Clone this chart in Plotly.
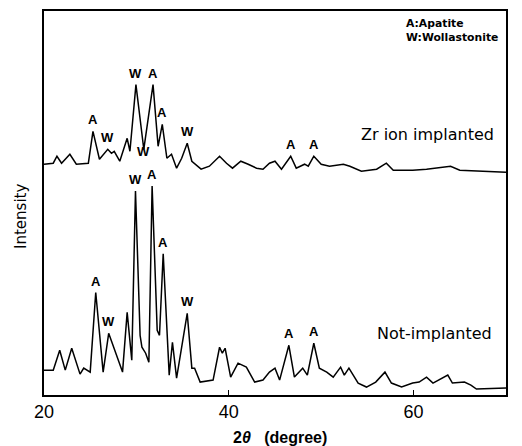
import numpy as np
import plotly.graph_objects as go

# Not-implanted pattern (2theta, intensity, arbitrary units)
lower_2theta = [20.0, 21.0, 21.7, 22.3, 23.0, 23.9, 24.3, 25.0, 25.6, 26.4, 27.0, 27.6, 28.5, 29.0,
                29.5, 29.9, 30.4, 30.6, 31.0, 31.35, 31.7, 32.25, 32.5, 32.9, 33.55, 33.9, 34.35,
                35.5, 36.0, 36.3, 36.9, 38.3, 39.0, 39.3, 39.6, 40.2, 41.0, 41.9, 42.8, 43.7, 44.4,
                45.0, 45.5, 46.5, 47.1, 48.0, 48.5, 49.2, 49.8, 50.6, 51.3, 52.1, 52.5, 53.0, 54.0,
                54.9, 55.9, 56.9, 57.6, 58.7, 59.9, 60.6, 61.4, 62.1, 63.7, 64.2, 65.5, 66.2, 66.8, 70.0]
lower_int = [25, 25, 45, 25, 47, 21, 27, 23, 103, 23, 62, 47, 23, 83,
             35, 205, 60, 48, 42, 33, 210, 65, 60, 142, 20, 53, 17,
             82, 27, 27, 13, 15, 48, 42, 47, 18, 32, 28, 13, 15, 23,
             27, 15, 50, 18, 27, 20, 52, 27, 23, 18, 28, 20, 27, 12,
             8, 13, 23, 12, 8, 12, 13, 18, 12, 20, 12, 13, 10, 6, 7]

# Zr ion implanted pattern (2theta, intensity relative to its own baseline)
upper_2theta = [20.0, 21.0, 21.4, 21.9, 22.8, 23.5, 24.8, 25.3, 26.0, 26.9, 27.3, 27.6, 28.2, 29.0,
                29.3, 29.95, 30.8, 31.8, 32.35, 32.8, 33.3, 33.8, 34.35, 34.9, 35.5, 36.0, 37.0,
                37.9, 39.0, 39.75, 40.4, 41.3, 42.1, 43.0, 43.7, 44.4, 45.0, 45.7, 46.7, 47.3, 48.2,
                48.6, 49.2, 50.0, 50.9, 52.4, 53.1, 54.35, 56.0, 57.05, 57.8, 59.9, 61.4, 64.0,
                65.0, 67.1, 69.8, 70.0]
upper_int = [17, 18, 25, 18, 27, 17, 18, 50, 22, 32, 28, 30, 20, 43,
             30, 97, 32, 97, 35, 57, 23, 27, 13, 23, 38, 20, 12,
             15, 25, 18, 13, 20, 17, 13, 12, 18, 20, 12, 25, 13, 17,
             15, 25, 17, 15, 17, 15, 10, 12, 18, 11, 11, 12, 15,
             11, 10, 9, 9]
upper_offset = 215

# Peak labels
upper_label_x = [25.3, 26.9, 29.95, 31.8, 32.8, 35.5, 46.7, 49.2]
upper_label_t = ["A", "W", "W", "A", "A", "W", "A", "A"]
upper_minor_label_x = [30.8]
upper_minor_label_t = ["W"]
lower_label_x = [25.6, 27.0, 29.9, 31.7, 32.9, 35.5, 46.5, 49.2]
lower_label_t = ["A", "W", "W", "A", "A", "W", "A", "A"]

x_ticks = [20, 40, 60]

upper_y = [v + upper_offset for v in upper_int]

fig = go.Figure()
fig.add_trace(go.Scatter(x=upper_2theta, y=upper_y, mode="lines",
                         line=dict(color="black", width=1.5), showlegend=False))
fig.add_trace(go.Scatter(x=lower_2theta, y=lower_int, mode="lines",
                         line=dict(color="black", width=1.5), showlegend=False))

lab_font = dict(family="Liberation Sans, Arial", size=13, color="black")
anns = []
for xs, ts, xd, yd in [(upper_label_x, upper_label_t, upper_2theta, upper_y),
                       (lower_label_x, lower_label_t, lower_2theta, lower_int)]:
    for x, t in zip(xs, ts):
        yv = float(np.interp(x, xd, yd))
        anns.append(dict(x=x, y=yv, xref="x", yref="y", text="<b>%s</b>" % t,
                         showarrow=False, xanchor="center", yanchor="bottom", yshift=2,
                         font=lab_font))
for x, t in zip(upper_minor_label_x, upper_minor_label_t):
    yv = float(np.interp(x, upper_2theta, upper_y))
    anns.append(dict(x=x, y=yv, xref="x", yref="y", text="<b>%s</b>" % t,
                     showarrow=False, xanchor="center", yanchor="middle", yshift=-2,
                     font=lab_font))

txt_font = dict(family="DejaVu Sans", size=16, color="black")
anns += [
    dict(x=0.83, y=0.679, xref="paper", yref="paper", text="Zr ion implanted",
         showarrow=False, xanchor="center", yanchor="middle", font=txt_font),
    dict(x=0.846, y=0.161, xref="paper", yref="paper", text="Not-implanted",
         showarrow=False, xanchor="center", yanchor="middle", font=txt_font),
    dict(x=0.779, y=0.99, xref="paper", yref="paper",
         text="<b>A:Apatite</b><br><b>W:Wollastonite</b>", align="left",
         showarrow=False, xanchor="left", yanchor="top",
         font=dict(family="DejaVu Sans", size=10.8, color="black")),
    dict(x=-0.05, y=0.466, xref="paper", yref="paper", text="Intensity", textangle=-90,
         showarrow=False, xanchor="center", yanchor="middle",
         font=dict(family="DejaVu Sans", size=15, color="black")),
    dict(x=0.511, y=-0.111, xref="paper", yref="paper", text="<b>2<i>θ</i>   (degree)</b>",
         showarrow=False, xanchor="center", yanchor="middle",
         font=dict(family="Liberation Sans, Arial", size=16, color="black")),
]

# page body has an 8px default margin; size the figure so the plot lands where intended
fig.update_layout(
    width=514, height=438,
    margin=dict(l=36, r=16, t=1, b=51),
    paper_bgcolor="white", plot_bgcolor="white",
    annotations=anns,
    xaxis=dict(range=[20, 70], tickvals=x_ticks, ticks="inside", ticklen=5, tickcolor="black",
               showline=True, linecolor="black", linewidth=1.5, mirror=True, showgrid=False,
               zeroline=False,
               tickfont=dict(family="Liberation Sans, Arial", size=18, color="black")),
    yaxis=dict(range=[0, 386], showticklabels=False, ticks="", showline=True, linecolor="black",
               linewidth=1.5, mirror=True, showgrid=False, zeroline=False),
)

fig.write_html("out.html")
